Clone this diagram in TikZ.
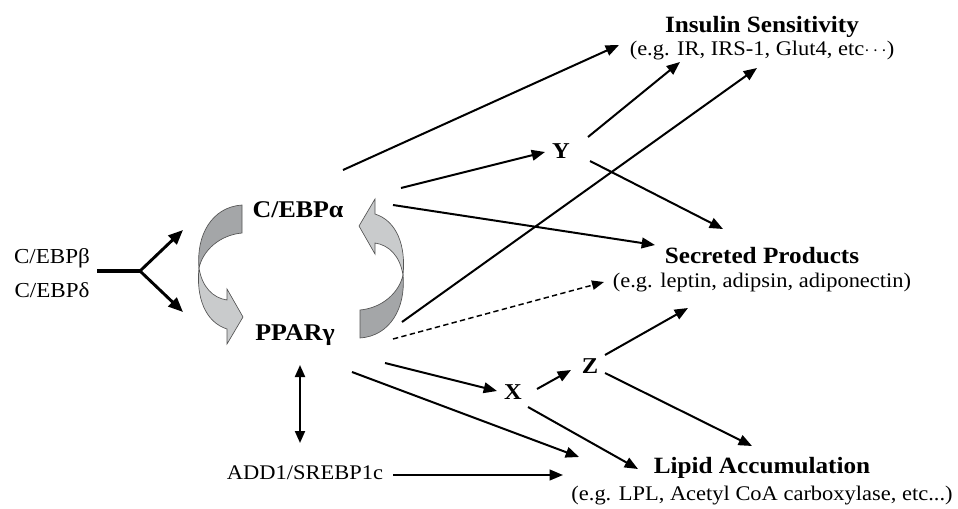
\documentclass[tikz,border=0pt]{standalone}
\usepackage{fontspec}
\setmainfont{Liberation Serif}[FakeStretch=1.08]
\usetikzlibrary{arrows.meta}
\definecolor{ribdark}{HTML}{A4A6A8}
\definecolor{riblight}{HTML}{C9CBCC}
\definecolor{ribline}{HTML}{555555}
\begin{document}
\begin{tikzpicture}[x=0.75pt,y=-0.75pt,
  lbl/.style={anchor=base,inner sep=0pt,font=\fontsize{15.6}{18}\selectfont},
  sublbl/.style={anchor=base,inner sep=0pt,font=\fontsize{15.6}{18}\selectfont},
  hdlbl/.style={anchor=base,inner sep=0pt,font=\fontsize{17.5}{20}\selectfont\bfseries},
  tflbl/.style={anchor=base,inner sep=0pt,font=\fontsize{18}{20}\selectfont\bfseries},
  xyzlbl/.style={anchor=base,inner sep=0pt,font=\fontsize{17}{20}\selectfont\bfseries},
  uplbl/.style={anchor=base,inner sep=0pt,font=\fontsize{16}{18}\selectfont},
  arr/.style={line width=1.5pt,-{Triangle[length=10pt,width=8pt]}},
  dasharr/.style={line width=1.1pt,dash pattern=on 4pt off 2.5pt,-{Triangle[length=9pt,width=7pt]}},
  dblarr/.style={line width=1.5pt,{Triangle[length=9pt,width=7.5pt]}-{Triangle[length=9pt,width=7.5pt]}},
  ribbon/.pic={
    \filldraw[fill=ribdark,draw=ribline,line width=0.5pt]
      (-59,-66.5) -- (-59,-38.5) .. controls (-81,-36.5) and (-98,-21.5) .. (-102,-3.5)
      .. controls (-105,-36.5) and (-89,-64.5) .. cycle;
    \filldraw[fill=riblight,draw=ribline,line width=0.5pt]
      (-102,-3.5) .. controls (-99,15.5) and (-88,26.5) .. (-74,28.5)
      -- (-74,17.5) -- (-58,45.5) -- (-74,72.5) -- (-74,57.5)
      .. controls (-96,50.5) and (-105,25.5) .. cycle;
  }
]
\useasboundingbox (0,0) rectangle (958,508);

% ribbon cycle arrows
\pic at (301,271.5) {ribbon};
\pic[rotate=180] at (301,271.5) {ribbon};

% nodes
\node[hdlbl]  (insT) at (762,32) {Insulin Sensitivity};
\node[sublbl] (insS) at (762,55) {(e.g. IR, IRS-1, Glut4, etc$\cdots$)};
\node[hdlbl]  (secT) at (762,263) {Secreted Products};
\node[sublbl] (secS) at (762,287) {(e.g. leptin, adipsin, adiponectin)};
\node[hdlbl]  (lipT) at (762,473) {Lipid Accumulation};
\node[sublbl] (lipS) at (762,500) {(e.g. LPL, Acetyl CoA carboxylase, etc...)};

\node[tflbl] (cebpa) at (298,217) {C/EBPα};
\node[tflbl] (ppar)  at (295,340) {PPARγ};
\node[uplbl] (cebpb) at (52,263) {C/EBPβ};
\node[uplbl] (cebpd) at (52,297) {C/EBPδ};
\node[lbl]   (add1)  at (305,479) {ADD1/SREBP1c};

\node[xyzlbl] (Y) at (561,158) {Y};
\node[xyzlbl] (X) at (513,399) {X};
\node[xyzlbl] (Z) at (590,373) {Z};

% C/EBPbeta, delta branch
\coordinate (fork) at (140,271);
\draw[line width=2.6pt] ([shift={(45,8)}]cebpb.base) -- (fork);
\draw[line width=2.2pt,-{Triangle[length=11pt,width=9pt]}] (fork) -- ([shift={(-115,13)}]cebpa.base);
\draw[line width=2.2pt,-{Triangle[length=11pt,width=9pt]}] (fork) -- ([shift={(-112,-28)}]ppar.base);

% connectors
\draw[arr] ([shift={(45,-47)}]cebpa.base) -- ([shift={(-143,-10)}]insS.base);
\draw[arr] ([shift={(103,-29)}]cebpa.base) -- ([shift={(-16,-6)}]Y.base);
\draw[arr] ([shift={(27,-21)}]Y.base) -- ([shift={(-82,7)}]insS.base);
\draw[arr] ([shift={(29,3)}]Y.base) -- ([shift={(-39,-34)}]secT.base);
\draw[arr] ([shift={(95,-12)}]cebpa.base) -- ([shift={(-107,-18)}]secT.base);
\draw[arr] ([shift={(107,-18)}]ppar.base) -- ([shift={(-5,13)}]insS.base);
\draw[dasharr] ([shift={(98,-1)}]ppar.base) -- ([shift={(-158,-5)}]secS.base);
\draw[arr] ([shift={(90,23)}]ppar.base) -- ([shift={(-16,-8)}]X.base);
\draw[arr] ([shift={(57,32)}]ppar.base) -- ([shift={(-183,-16)}]lipT.base);
\draw[arr] ([shift={(24,-10)}]X.base) -- ([shift={(-19,-3)}]Z.base);
\draw[arr] ([shift={(15,8)}]X.base) -- ([shift={(-124,-4)}]lipT.base);
\draw[arr] ([shift={(15,-18)}]Z.base) -- ([shift={(-74,21)}]secS.base);
\draw[arr] ([shift={(15,0)}]Z.base) -- ([shift={(-10,-27)}]lipT.base);
\draw[dblarr] ([shift={(5,25)}]ppar.base) -- ([shift={(-5,-36)}]add1.base);
\draw[arr] ([shift={(88,-4)}]add1.base) -- ([shift={(-199,2)}]lipT.base);
\end{tikzpicture}
\end{document}
